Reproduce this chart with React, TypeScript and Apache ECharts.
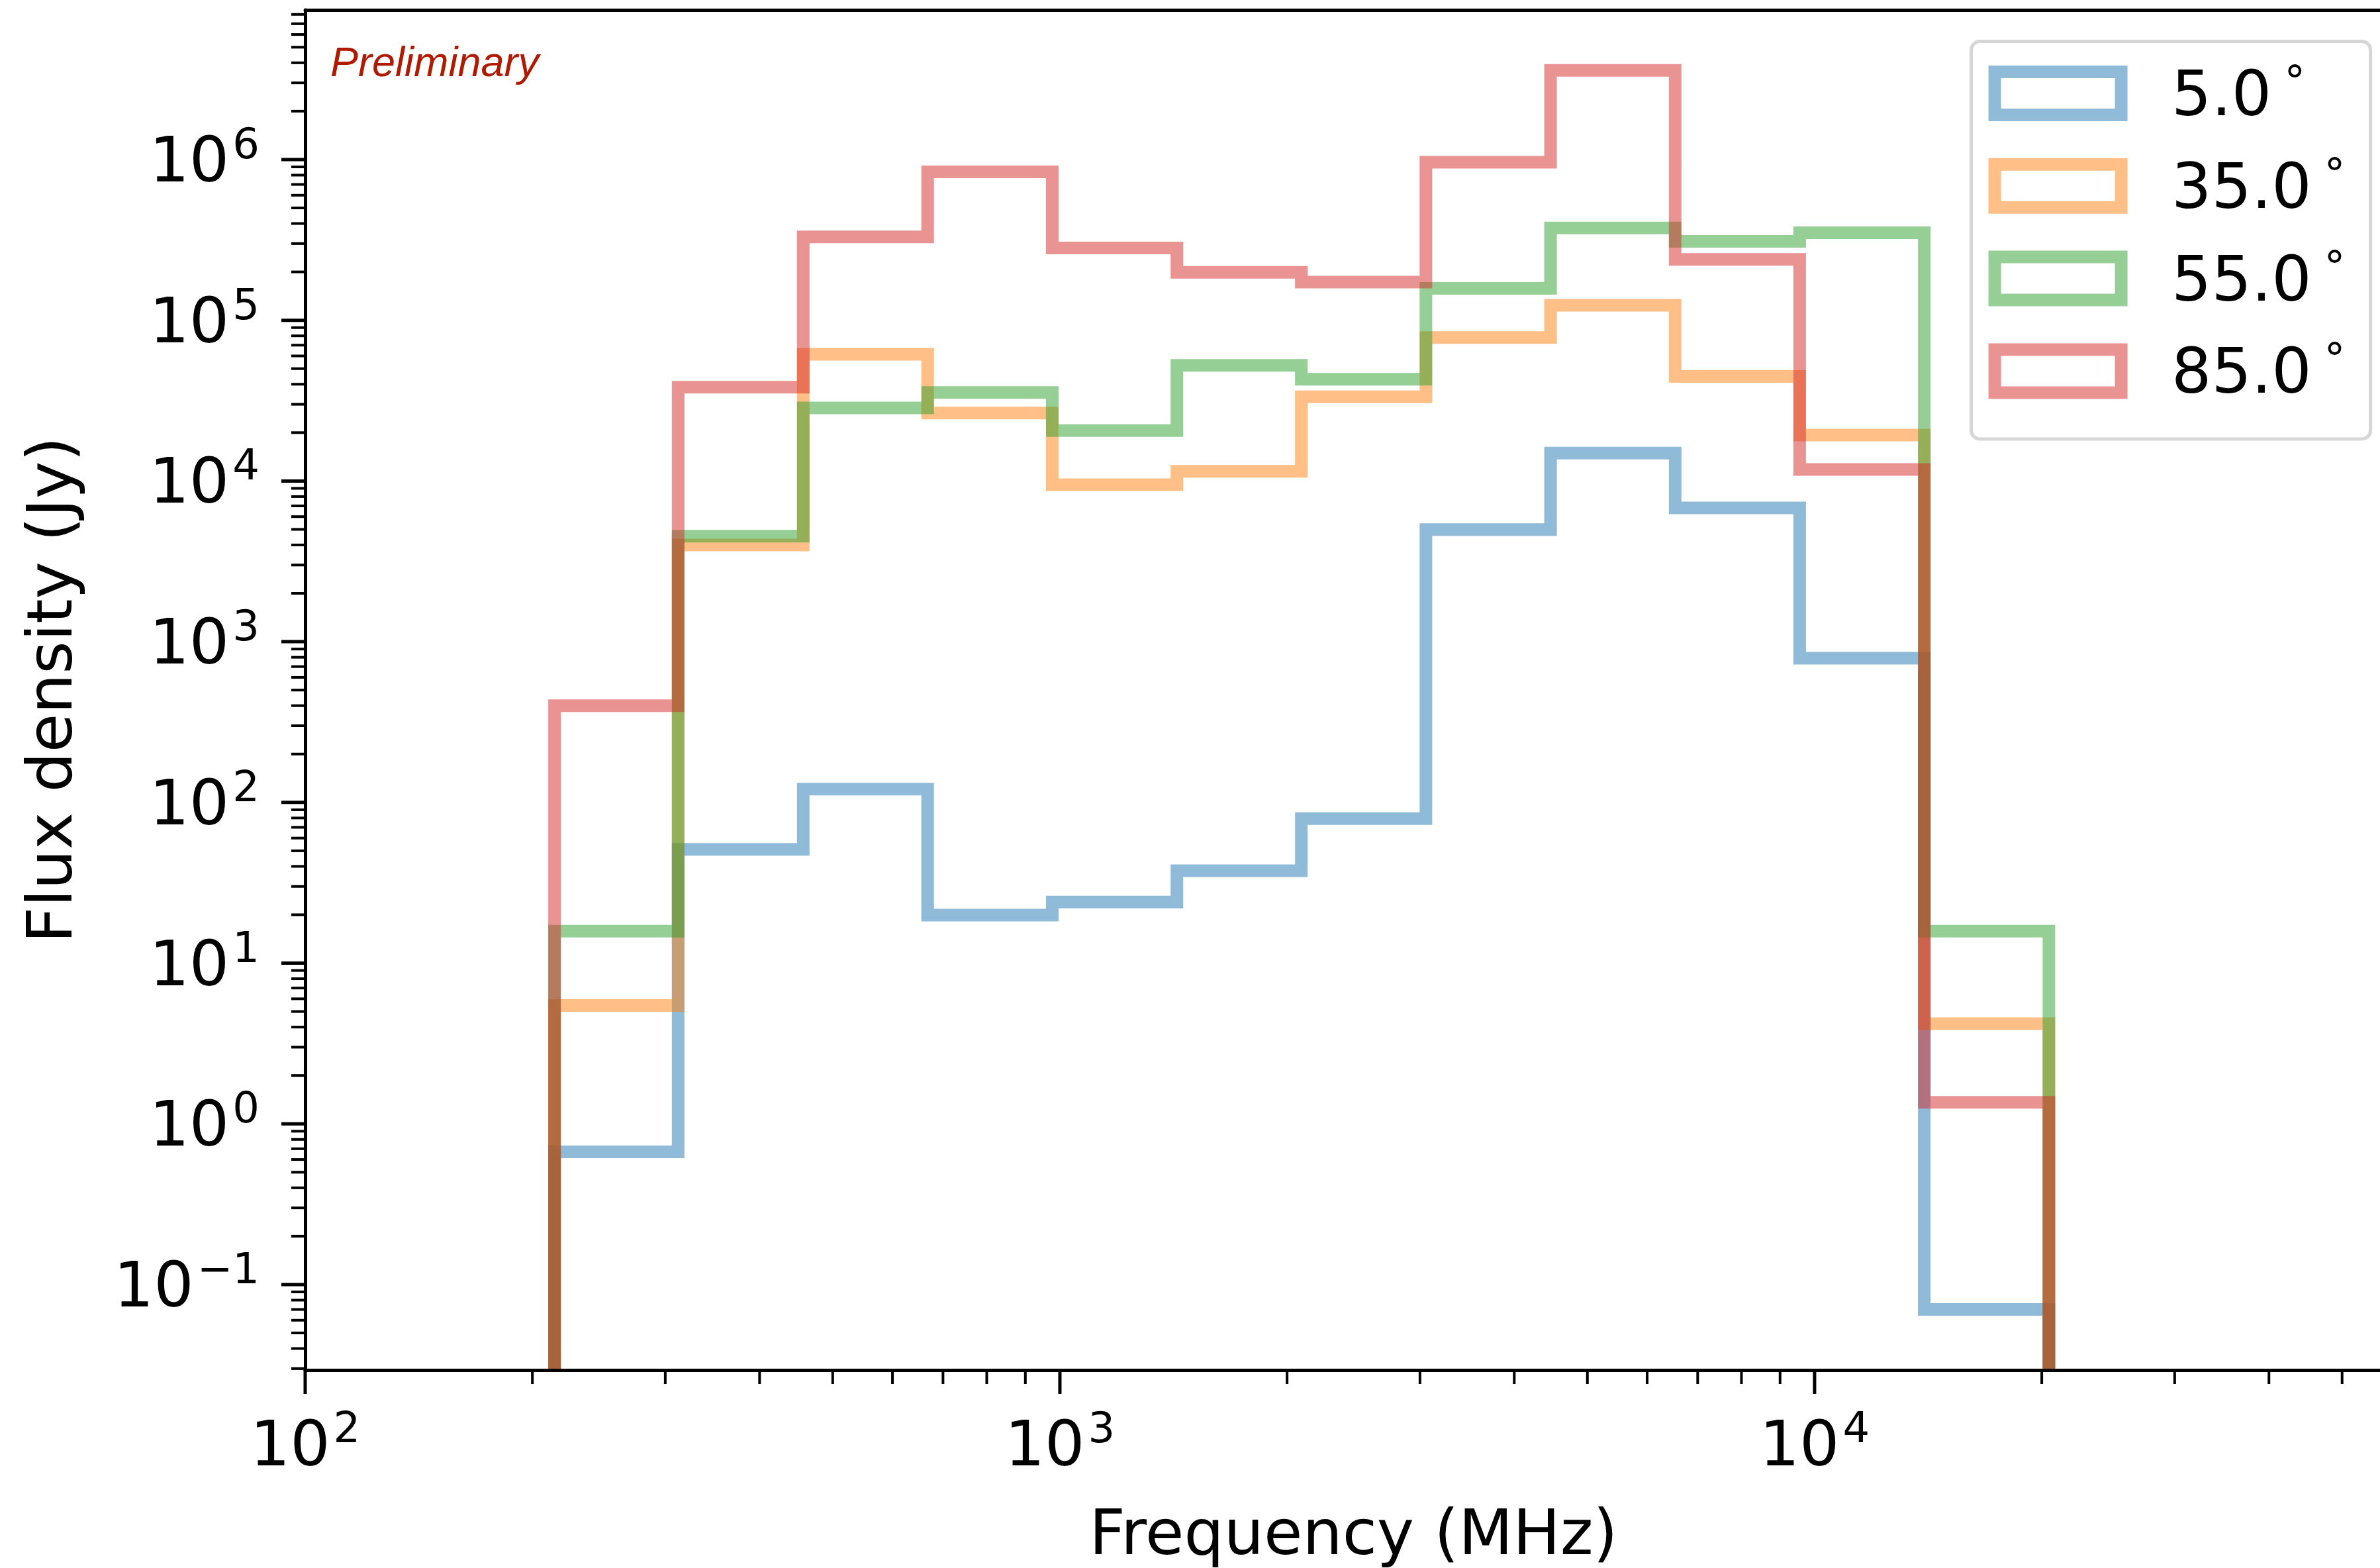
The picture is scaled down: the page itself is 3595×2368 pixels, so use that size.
import React, { useEffect, useRef } from 'react';
import * as echarts from 'echarts';

const FONT = 'DejaVu Sans';

// Histogram bin edges (MHz)
const FREQ_EDGES = [214, 312, 457, 668, 977, 1429, 2089, 3055, 4468, 6535, 9555, 13975, 20440];

// Series labels (degrees)
const SERIES_LABELS = ['5.0', '35.0', '55.0', '85.0'];

// Flux density per bin (Jy)
const FLUX_5 = [0.67, 51, 121, 19.9, 24, 37.6, 79.4, 4980, 14900, 6810, 790, 0.07];
const FLUX_35 = [5.45, 4000, 61500, 26500, 9480, 11500, 33400, 78100, 124000, 44700, 19300, 4.2];
const FLUX_55 = [15.8, 4530, 28500, 35500, 20600, 52400, 43000, 158000, 375000, 310000, 350000, 15.8];
const FLUX_85 = [400, 38300, 330000, 839000, 282000, 199000, 173000, 963000, 3590000, 239000, 11800, 1.36];

// Axis ranges
const X_MIN = 100;
const X_MAX = 60000;
const Y_MIN = 0.0294;
const Y_MAX = 8.53e6;

// Tick structure (log decades and multipliers)
const X_DECADES = [2, 3, 4];
const Y_DECADES = [-2, -1, 0, 1, 2, 3, 4, 5, 6];
const TICK_MULTIPLIERS = [1, 2, 3, 4, 5, 6, 7, 8, 9];

const COLORS = [
  'rgba(31,119,180,0.5)',
  'rgba(255,127,14,0.5)',
  'rgba(44,160,44,0.5)',
  'rgba(214,39,40,0.5)',
];

const LINE_WIDTH = 19;
const MAJOR_LEN = 36;
const MINOR_LEN = 21;

function stepPoints(values: number[]): number[][] {
  const pts: number[][] = [[FREQ_EDGES[0], Y_MIN]];
  values.forEach((v, i) => {
    pts.push([FREQ_EDGES[i], v]);
    pts.push([FREQ_EDGES[i + 1], v]);
  });
  pts.push([FREQ_EDGES[FREQ_EDGES.length - 1], Y_MIN]);
  return pts;
}

function buildTicks(): number[][] {
  const out: number[][] = [];
  Y_DECADES.forEach((d) =>
    TICK_MULTIPLIERS.forEach((m) => {
      const v = m * Math.pow(10, d);
      if (v >= Y_MIN && v <= Y_MAX) out.push([X_MIN, v, m === 1 ? 1 : 0, 0]);
    })
  );
  X_DECADES.forEach((d) =>
    TICK_MULTIPLIERS.forEach((m) => {
      const v = m * Math.pow(10, d);
      if (v >= X_MIN && v <= X_MAX) out.push([v, Y_MIN, m === 1 ? 1 : 0, 1]);
    })
  );
  return out;
}

function supLabel(v: number): string {
  const e = Math.log10(v);
  const r = Math.round(e);
  if (Math.abs(e - r) > 1e-6) return '';
  const s = r < 0 ? '\u2212' + String(-r) : String(r);
  return `{b|10}{s|${s}}`;
}

const LABEL_RICH = {
  b: { fontFamily: FONT, fontSize: 95, lineHeight: 112, color: '#000' },
  s: { fontFamily: FONT, fontSize: 64, lineHeight: 60, verticalAlign: 'top', color: '#000', padding: [0, 0, 0, 5] },
};

export default function App() {
  const ref = useRef<HTMLDivElement>(null);

  useEffect(() => {
    if (!ref.current) return;
    const chart = echarts.init(ref.current, null, { renderer: 'svg' });
    const allFlux = [FLUX_5, FLUX_35, FLUX_55, FLUX_85];
    const names = SERIES_LABELS.map((l) => l + ' \u00b0');

    const lineSeries = allFlux.map((vals, i) => ({
      type: 'line',
      name: names[i],
      data: stepPoints(vals),
      showSymbol: false,
      symbol: 'none',
      silent: true,
      clip: true,
      z: 2,
      lineStyle: { color: COLORS[i], width: LINE_WIDTH, join: 'miter', cap: 'butt' },
      itemStyle: { color: COLORS[i] },
      emphasis: { disabled: true },
    }));

    const tickSeries = {
      type: 'custom',
      name: 'ticks',
      silent: true,
      clip: false,
      z: 10,
      data: buildTicks(),
      renderItem: (params: any, api: any) => {
        const p = api.coord([api.value(0), api.value(1)]);
        const major = api.value(2) === 1;
        const isX = api.value(3) === 1;
        const len = major ? MAJOR_LEN : MINOR_LEN;
        return {
          type: 'line',
          shape: isX
            ? { x1: p[0], y1: p[1], x2: p[0], y2: p[1] + len }
            : { x1: p[0] - len, y1: p[1], x2: p[0], y2: p[1] },
          style: { stroke: '#000', lineWidth: major ? 5 : 4 },
        };
      },
    };

    const option: any = {
      animation: false,
      backgroundColor: '#ffffff',
      grid: { left: 461, top: 15, right: -33, bottom: 299, containLabel: false, outerBoundsMode: 'none' },
      xAxis: [
        {
          type: 'log',
          logBase: 10,
          min: X_MIN,
          max: X_MAX,
          z: 10,
          name: 'Frequency (MHz)',
          nameLocation: 'middle',
          nameGap: 197,
          nameTextStyle: { fontFamily: FONT, fontSize: 95, color: '#000' },
          axisLine: { show: true, onZero: false, lineStyle: { color: '#000', width: 5 } },
          axisTick: { show: false },
          minorTick: { show: false },
          splitLine: { show: false },
          minorSplitLine: { show: false },
          axisLabel: { margin: 55, formatter: supLabel, rich: LABEL_RICH, showMinLabel: true, showMaxLabel: true },
        },
        {
          type: 'log',
          logBase: 10,
          position: 'top',
          min: X_MIN,
          max: X_MAX,
          z: 10,
          axisLine: { show: true, onZero: false, lineStyle: { color: '#000', width: 5 } },
          axisTick: { show: false },
          axisLabel: { show: false },
          splitLine: { show: false },
        },
      ],
      yAxis: {
        type: 'log',
        logBase: 10,
        min: Y_MIN,
        max: Y_MAX,
        z: 10,
        name: 'Flux density (Jy)',
        nameLocation: 'middle',
        nameGap: 339,
        nameTextStyle: { fontFamily: FONT, fontSize: 95, color: '#000' },
        axisLine: { show: true, onZero: false, lineStyle: { color: '#000', width: 5 } },
        axisTick: { show: false },
        minorTick: { show: false },
        splitLine: { show: false },
        minorSplitLine: { show: false },
        axisLabel: { margin: 69, formatter: supLabel, rich: LABEL_RICH, showMinLabel: true, showMaxLabel: true },
      },
      legend: {
        show: true,
        orient: 'vertical',
        align: 'left',
        left: 2977.6,
        top: 62.5,
        padding: [28.5, 38, 55, 26],
        itemGap: 42.3,
        itemWidth: 191,
        itemHeight: 65,
        selectedMode: false,
        backgroundColor: 'rgba(255,255,255,0.8)',
        borderColor: 'rgba(204,204,204,0.8)',
        borderWidth: 5,
        borderRadius: 13,
        data: names.map((n, i) => ({
          name: n,
          icon: 'rect',
          itemStyle: { color: '#ffffff', borderColor: COLORS[i], borderWidth: LINE_WIDTH },
        })),
        formatter: (name: string) => `{a|${name.split(' ')[0]}}{d|\u00b0}`,
        textStyle: {
          fontFamily: FONT,
          color: '#000',
          rich: {
            a: { fontFamily: FONT, fontSize: 95, lineHeight: 100, color: '#000', padding: [0, 0, 0, 71] },
            d: { fontFamily: FONT, fontSize: 64, lineHeight: 79, verticalAlign: 'top', color: '#000', padding: [0, 0, 0, 19] },
          },
        },
      },
      graphic: [
        {
          type: 'text',
          x: 499,
          y: 93,
          z: 20,
          style: {
            text: 'Preliminary',
            fontFamily: 'Liberation Sans',
            fontStyle: 'italic',
            fontSize: 63,
            fill: '#b01a00',
            align: 'left',
            verticalAlign: 'middle',
          },
        },
      ],
      series: [...lineSeries, tickSeries],
    };

    chart.setOption(option);
    return () => chart.dispose();
  }, []);

  return (
    <div
      ref={ref}
      style={{ position: 'fixed', left: 0, top: 0, width: '3595px', height: '2368px', background: '#fff' }}
    />
  );
}
